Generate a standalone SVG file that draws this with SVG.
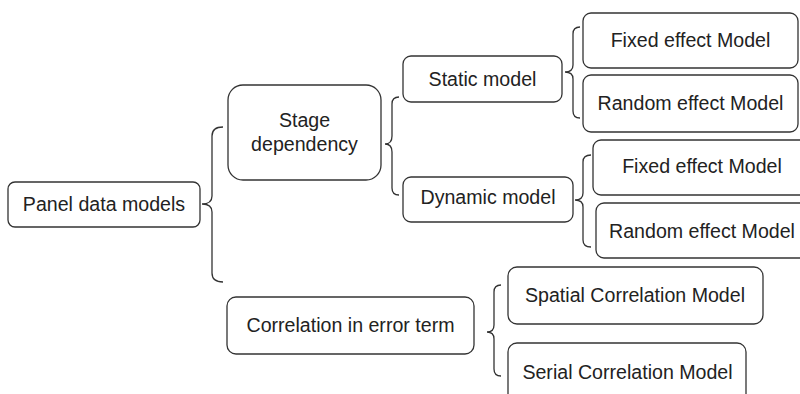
<svg xmlns="http://www.w3.org/2000/svg" width="800" height="394" viewBox="0 0 800 394">
<style>
.box{fill:#fff;stroke:#333;stroke-width:1.3}
.br{fill:none;stroke:#333;stroke-width:1.3}
text{font-family:"Liberation Sans",Arial,sans-serif;font-size:19.6px;fill:#222;text-anchor:middle}
</style>
<rect width="800" height="394" fill="#fff"/>
<g id="connectors">
<path class="br" d="M223,127 Q212,127 212,136 L212,196 Q212,204 202,204 Q212,204 212,212 L212,273 Q212,282 223,282"/>
<path class="br" d="M399,97 Q392,97 392,104 L392,136 Q392,144 385,144 Q392,144 392,152 L392,188 Q392,195 399,195"/>
<path class="br" d="M580,27 Q573,27 573,34 L573,65 Q573,72 565,72 Q573,72 573,79 L573,111 Q573,118 580,118"/>
<path class="br" d="M591,155 Q583,155 583,162 L583,193 Q583,200 575,200 Q583,200 583,207 L583,240 Q583,247 591,247"/>
<path class="br" d="M501,285 Q494,285 494,292 L494,325 Q494,332 487,332 Q494,332 494,339 L494,369 Q494,376 501,376"/>
</g>
<g id="panel"><rect class="box" x="8" y="182" width="192" height="45" rx="7"/><text x="104" y="211">Panel data models</text></g>
<g id="stage"><rect class="box" x="228" y="85" width="153" height="95" rx="15"/><text x="304.5" y="127">Stage</text><text x="304.5" y="151">dependency</text></g>
<g id="static"><rect class="box" x="403" y="56" width="159" height="46" rx="8"/><text x="482.5" y="86">Static model</text></g>
<g id="fixed1"><rect class="box" x="583" y="13" width="215" height="55" rx="8"/><text x="690.5" y="47">Fixed effect Model</text></g>
<g id="random1"><rect class="box" x="583" y="75" width="215" height="57" rx="8"/><text x="690.5" y="110">Random effect Model</text></g>
<g id="dynamic"><rect class="box" x="403" y="177" width="170" height="45" rx="8"/><text x="488" y="204">Dynamic model</text></g>
<g id="fixed2"><rect class="box" x="593" y="140" width="218" height="55" rx="8"/><text x="702" y="173">Fixed effect Model</text></g>
<g id="random2"><rect class="box" x="596" y="203" width="212" height="55" rx="8"/><text x="702" y="238">Random effect Model</text></g>
<g id="correlation"><rect class="box" x="227" y="297" width="247" height="57" rx="9"/><text x="350.5" y="332">Correlation in error term</text></g>
<g id="spatial"><rect class="box" x="508" y="267" width="255" height="57" rx="9"/><text x="635" y="302">Spatial Correlation Model</text></g>
<g id="serial"><rect class="box" x="508" y="343" width="238" height="60" rx="9"/><text x="627.5" y="379">Serial Correlation Model</text></g>
</svg>
